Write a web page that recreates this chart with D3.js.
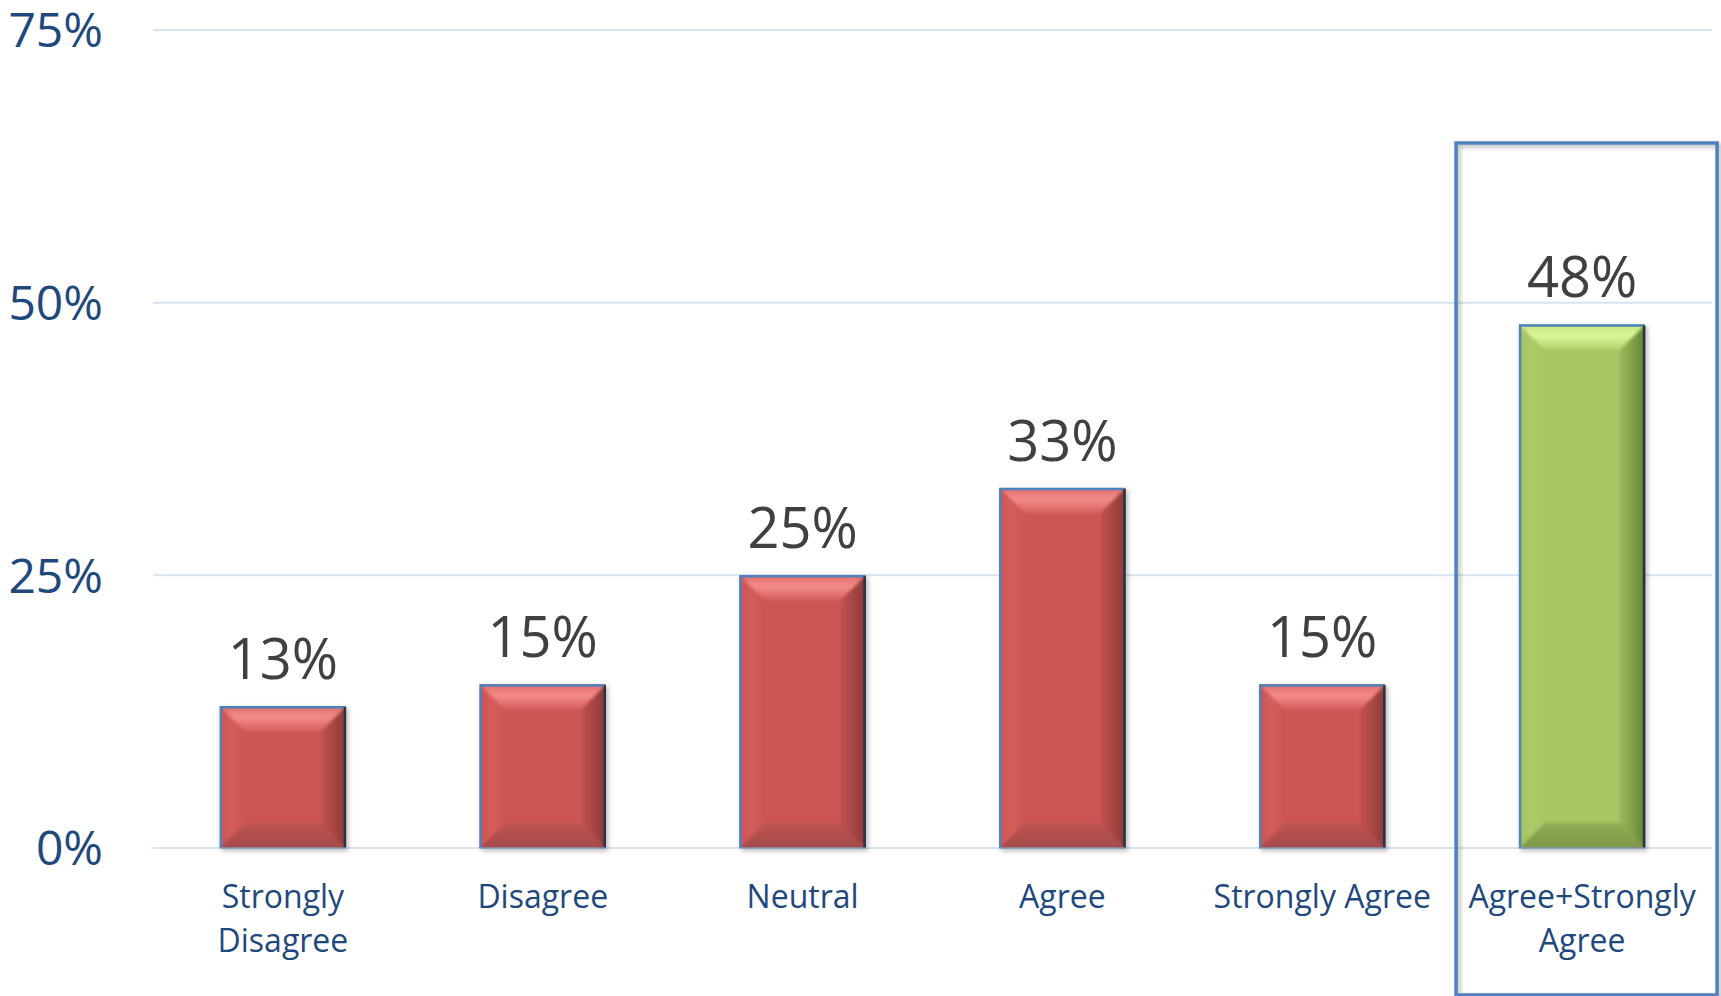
<!DOCTYPE html>
<html>
<head>
<meta charset="utf-8">
<script src="https://cdn.jsdelivr.net/npm/d3@7/dist/d3.min.js"></script>
<style>
  html, body { margin: 0; padding: 0; background: #ffffff; }
  svg { display: block; }
</style>
</head>
<body>
<svg id="chart" width="1721" height="996"></svg>
<script>
// Survey responses (share of respondents)
const categories = [["Strongly", "Disagree"], ["Disagree"], ["Neutral"], ["Agree"], ["Strongly Agree"], ["Agree+Strongly", "Agree"]];
const values = [0.13, 0.15, 0.25, 0.33, 0.15, 0.48];
const highlighted = [false, false, false, false, false, true];
const yTicks = [0, 0.25, 0.50, 0.75];
const yTickLabels = ["0%", "25%", "50%", "75%"];

const W = 1721, H = 996;
const plot = { left: 153, right: 1712, top: 30, bottom: 848 };
const FONT = "'Open Sans', 'Noto Sans', sans-serif";

const svg = d3.select("#chart");
const defs = svg.append("defs");

const keys = categories.map((c, i) => i);
const x = d3.scaleBand().domain(keys).range([plot.left, plot.right])
  .paddingInner(0.515).paddingOuter(0.2575);
const y = d3.scaleLinear().domain([0, 0.75]).range([plot.bottom, plot.top]);

// Palettes for the bevelled bars
const palettes = {
  red: {
    face: "#cd5654",
    top: ["#dc6664", "#f48c8a", "#d65e5c"],
    bottom: ["#bd5351", "#a24a49"],
    left: ["#c65250", "#d45d5b", "#cd5654"],
    right: ["#c35250", "#a44443", "#843736"],
    edgeDark: "#2b3344"
  },
  green: {
    face: "#a6c764",
    top: ["#c2de78", "#dcf69a", "#b4d26e"],
    bottom: ["#90ac55", "#7c9548"],
    left: ["#9ebe5c", "#acca6a", "#a6c764"],
    right: ["#9ab95a", "#7f9c45", "#5e7832"],
    edgeDark: "#22303a"
  }
};

function linGrad(id, stops, vertical) {
  const g = defs.append("linearGradient").attr("id", id)
    .attr("x1", 0).attr("y1", 0)
    .attr("x2", vertical ? 0 : 1).attr("y2", vertical ? 1 : 0);
  stops.forEach((c, i) => g.append("stop")
    .attr("offset", (i / (stops.length - 1)) * 100 + "%")
    .attr("stop-color", c));
}
Object.entries(palettes).forEach(([k, p]) => {
  linGrad(k + "-top", p.top, true);
  linGrad(k + "-bottom", p.bottom, true);
  linGrad(k + "-left", p.left, false);
  linGrad(k + "-right", p.right, false);
});

const shadow = defs.append("filter").attr("id", "barShadow")
  .attr("x", "-10%").attr("y", "-10%").attr("width", "130%").attr("height", "130%");
shadow.append("feDropShadow").attr("dx", 2).attr("dy", 2).attr("stdDeviation", 2.5)
  .attr("flood-color", "#000").attr("flood-opacity", 0.28);

const soften = defs.append("filter").attr("id", "soften")
  .attr("x", "-5%").attr("y", "-5%").attr("width", "110%").attr("height", "110%");
soften.append("feGaussianBlur").attr("stdDeviation", 1.6);

const frameShadow = defs.append("filter").attr("id", "frameShadow")
  .attr("x", "-5%").attr("y", "-5%").attr("width", "115%").attr("height", "115%");
frameShadow.append("feDropShadow").attr("dx", 2.5).attr("dy", 2.5).attr("stdDeviation", 2)
  .attr("flood-color", "#000").attr("flood-opacity", 0.3);

// Gridlines
svg.append("g").selectAll("line").data(yTicks).join("line")
  .attr("x1", plot.left).attr("x2", plot.right)
  .attr("y1", d => y(d)).attr("y2", d => y(d))
  .attr("stroke", "#d6e3f1").attr("stroke-width", 2);

// Y axis labels
const yAxis = d3.axisLeft(y).tickValues(yTicks)
  .tickFormat((d, i) => yTickLabels[i]).tickSize(0).tickPadding(0);
const yg = svg.append("g").attr("transform", "translate(103,0)").call(yAxis);
yg.select(".domain").remove();
yg.selectAll("text")
  .attr("font-family", FONT).attr("font-size", 48).attr("fill", "#1f497d")
  .attr("dy", "0.35em");

// Bars with bevelled faces
const bw = x.bandwidth();
const bars = svg.append("g").selectAll("g.bar").data(keys).join("g")
  .attr("class", "bar").attr("filter", "url(#barShadow)");

bars.each(function (i) {
  const g = d3.select(this);
  const k = highlighted[i] ? "green" : "red";
  const p = palettes[k];
  const x0 = x(i), x1 = x(i) + bw;
  const y0 = y(values[i]), y1 = y(0);
  const b = Math.min(25, (y1 - y0) / 2);
  const pt = a => a.map(q => q.join(",")).join(" ");

  defs.append("clipPath").attr("id", "clip-" + i)
    .append("rect").attr("x", x0).attr("y", y0).attr("width", bw).attr("height", y1 - y0);

  g.append("rect").attr("x", x0).attr("y", y0).attr("width", bw).attr("height", y1 - y0)
    .attr("fill", p.face);
  const bev = g.append("g").attr("clip-path", `url(#clip-${i})`)
    .append("g").attr("filter", "url(#soften)");
  bev.append("polygon").attr("points", pt([[x0 - 3, y0 - 3], [x1 + 3, y0 - 3], [x1 - b, y0 + b], [x0 + b, y0 + b]]))
    .attr("fill", `url(#${k}-top)`);
  bev.append("polygon").attr("points", pt([[x0 - 3, y1 + 3], [x1 + 3, y1 + 3], [x1 - b, y1 - b], [x0 + b, y1 - b]]))
    .attr("fill", `url(#${k}-bottom)`);
  bev.append("polygon").attr("points", pt([[x0 - 3, y0 - 3], [x0 + b, y0 + b], [x0 + b, y1 - b], [x0 - 3, y1 + 3]]))
    .attr("fill", `url(#${k}-left)`);
  bev.append("polygon").attr("points", pt([[x1 + 3, y0 - 3], [x1 - b, y0 + b], [x1 - b, y1 - b], [x1 + 3, y1 + 3]]))
    .attr("fill", `url(#${k}-right)`);
  // edges: blue on top/left, dark on right
  g.append("path").attr("d", `M${x0 + 1},${y1} L${x0 + 1},${y0 + 1} L${x1 - 1},${y0 + 1}`)
    .attr("fill", "none").attr("stroke", "#4f81bd").attr("stroke-width", 2.5);
  g.append("line").attr("x1", x1 - 1).attr("x2", x1 - 1).attr("y1", y0 + 1).attr("y2", y1)
    .attr("stroke", p.edgeDark).attr("stroke-width", 2.5);
  g.append("line").attr("x1", x0).attr("x2", x1).attr("y1", y1).attr("y2", y1)
    .attr("stroke", "#7f95b8").attr("stroke-width", 1.5);
});

// Value labels
svg.append("g").selectAll("text").data(keys).join("text")
  .attr("x", i => x(i) + bw / 2)
  .attr("y", i => y(values[i]) - 27)
  .attr("text-anchor", "middle")
  .attr("font-family", FONT).attr("font-size", 56).attr("fill", "#404040")
  .text(i => Math.round(values[i] * 100) + "%");

// Category labels
const cat = svg.append("g").selectAll("text").data(keys).join("text")
  .attr("x", i => x(i) + bw / 2)
  .attr("y", 908)
  .attr("text-anchor", "middle")
  .attr("font-family", FONT).attr("font-size", 32).attr("fill", "#1f497d");
cat.selectAll("tspan").data(i => categories[i].map(t => ({ t, i }))).join("tspan")
  .attr("x", d => x(d.i) + bw / 2)
  .attr("dy", (d, j) => j === 0 ? 0 : 44)
  .text(d => d.t);

// Highlight frame around the combined category
const hi = highlighted.indexOf(true);
svg.append("rect")
  .attr("x", x(hi) + bw / 2 - 126)
  .attr("y", 143)
  .attr("width", 261)
  .attr("height", 852)
  .attr("fill", "none")
  .attr("stroke", "#4f81bd").attr("stroke-width", 3.5)
  .attr("filter", "url(#frameShadow)");
</script>
</body>
</html>
